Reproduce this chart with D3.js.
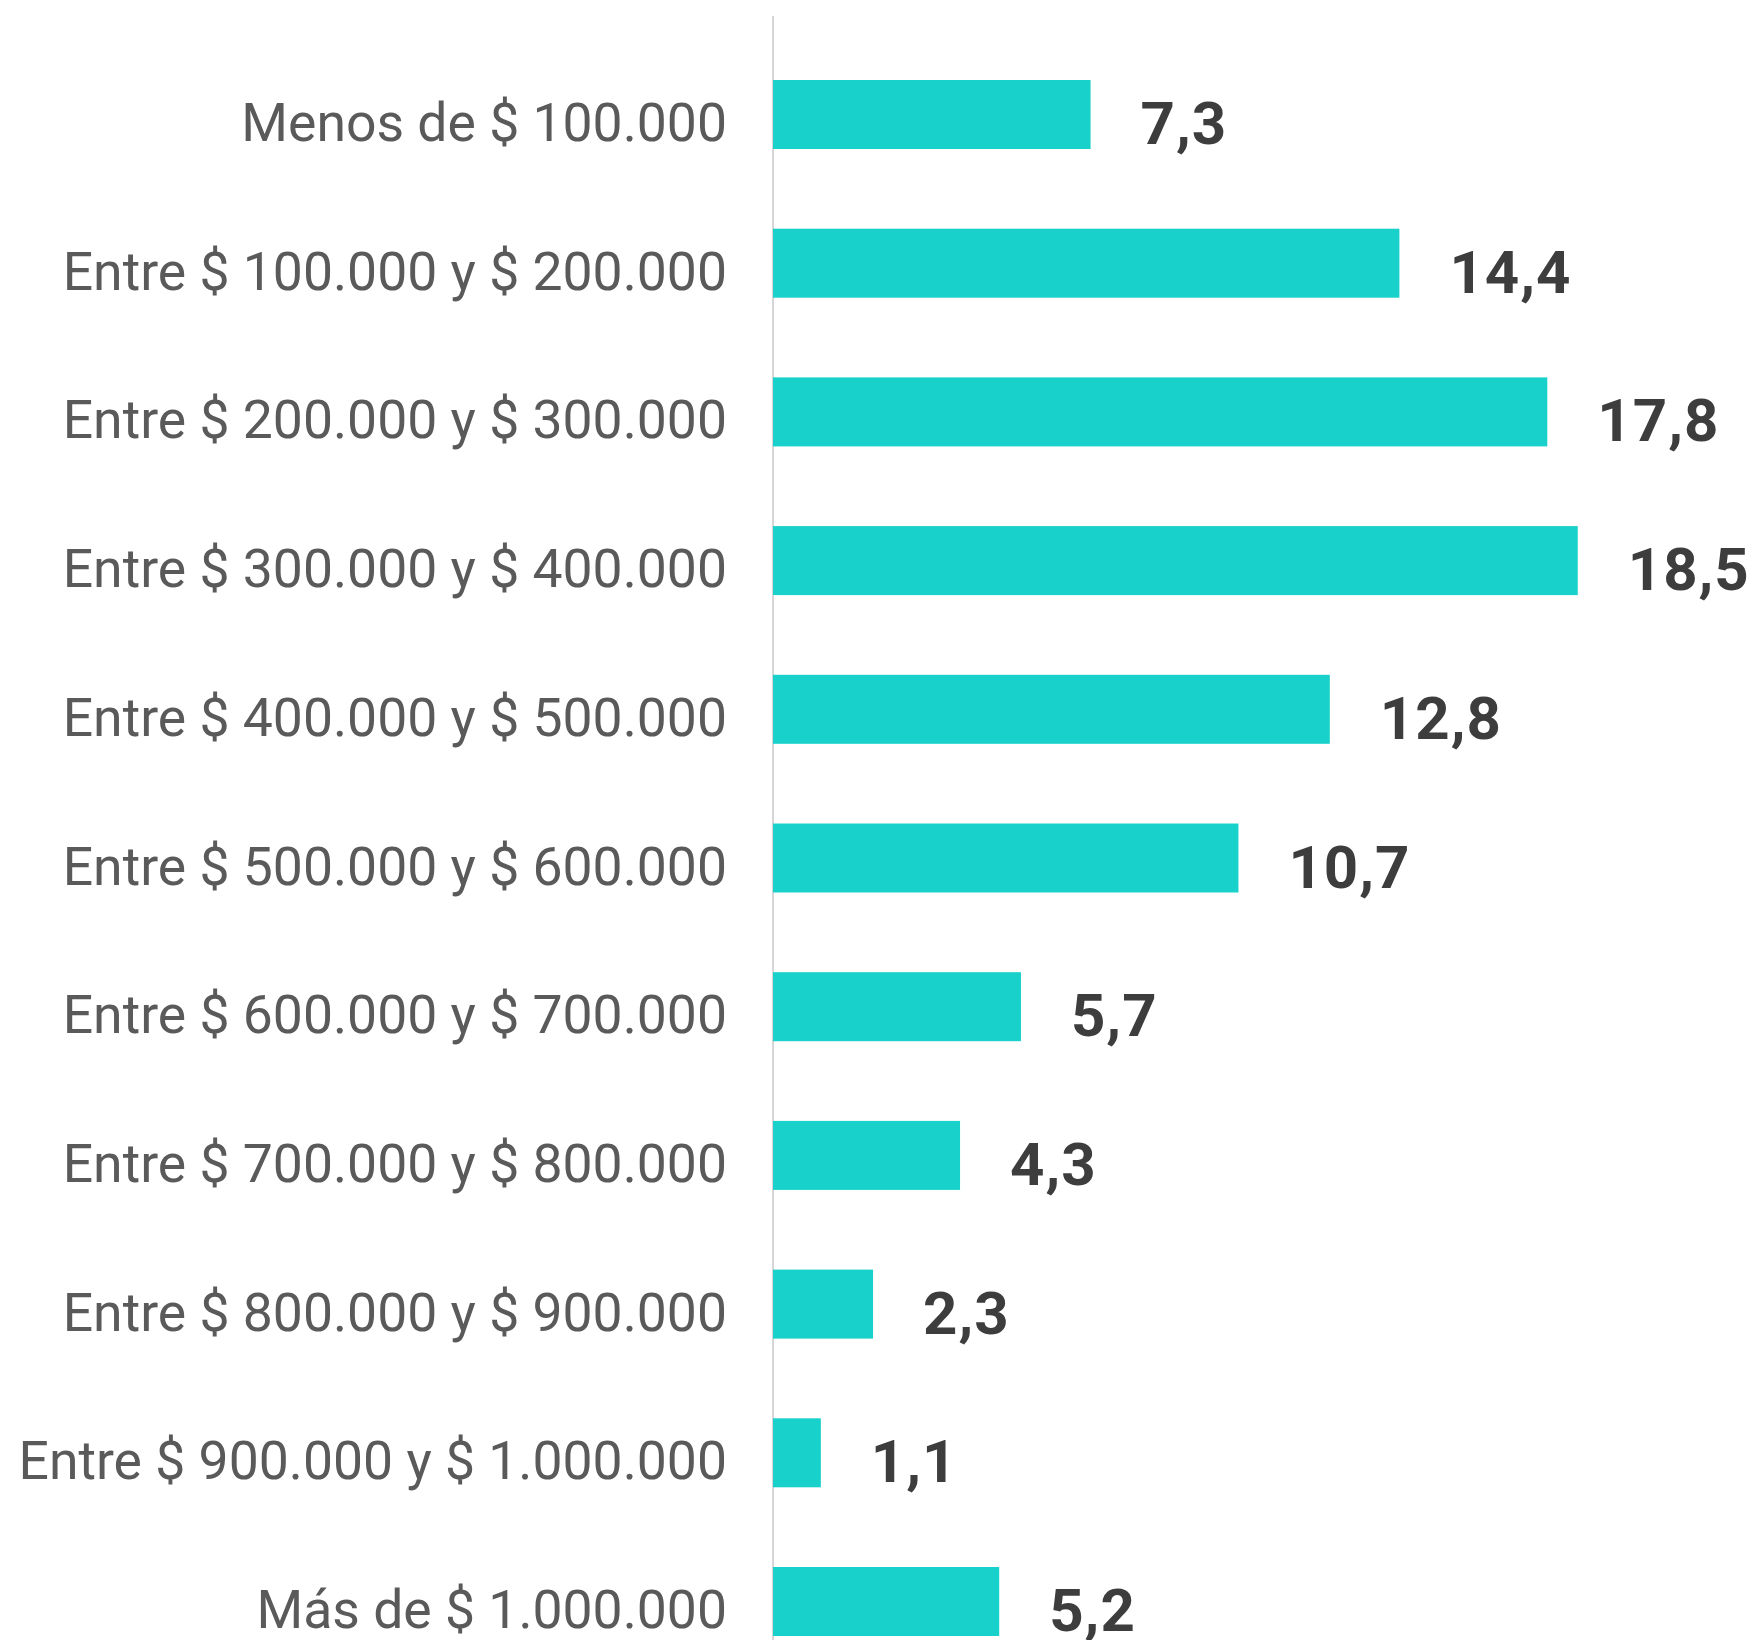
<!DOCTYPE html>
<html><head><meta charset="utf-8">
<script src="https://cdn.jsdelivr.net/npm/d3@7"></script>
<style>html,body{margin:0;padding:0;background:#fff;}svg{display:block;}</style>
</head><body>
<svg id="chart" width="1760" height="1640"></svg>
<script>
const categories = [
  "Menos de $ 100.000",
  "Entre $ 100.000 y $ 200.000",
  "Entre $ 200.000 y $ 300.000",
  "Entre $ 300.000 y $ 400.000",
  "Entre $ 400.000 y $ 500.000",
  "Entre $ 500.000 y $ 600.000",
  "Entre $ 600.000 y $ 700.000",
  "Entre $ 700.000 y $ 800.000",
  "Entre $ 800.000 y $ 900.000",
  "Entre $ 900.000 y $ 1.000.000",
  "Más de $ 1.000.000"
];
const values = [7.3, 14.4, 17.8, 18.5, 12.8, 10.7, 5.7, 4.3, 2.3, 1.1, 5.2];
const valueLabels = ["7,3","14,4","17,8","18,5","12,8","10,7","5,7","4,3","2,3","1,1","5,2"];

const data = categories.map((c,i)=>({cat:c, v:values[i], lab:valueLabels[i]}));
const svg = d3.select("#chart");

const x = d3.scaleLinear().domain([0, 20]).range([773, 773 + 870]);
const y = d3.scaleBand().domain(categories).range([80, 1636]).paddingInner(0.536).paddingOuter(0);

// axis line
svg.append("line")
  .attr("x1", x(0)).attr("x2", x(0))
  .attr("y1", 16).attr("y2", 1640)
  .attr("stroke", "#d6d6d6").attr("stroke-width", 2);

svg.append("g").selectAll("rect").data(data).join("rect")
  .attr("x", x(0))
  .attr("y", d => y(d.cat))
  .attr("width", d => x(d.v) - x(0))
  .attr("height", y.bandwidth())
  .attr("fill", "#18d1cb");

// category labels
svg.append("g").selectAll("text").data(data).join("text")
  .attr("x", 727)
  .attr("y", d => y(d.cat) + y.bandwidth()/2 + 8)
  .attr("text-anchor", "end")
  .attr("dominant-baseline", "central")
  .attr("font-family", "Roboto, sans-serif")
  .attr("font-size", 53.5)
  .attr("fill", "#5a5a5a")
  .text(d => d.cat);

// value labels
svg.append("g").selectAll("text").data(data).join("text")
  .attr("x", d => x(d.v) + 50)
  .attr("y", d => y(d.cat) + y.bandwidth()/2 + 9)
  .attr("dominant-baseline", "central")
  .attr("font-family", "Roboto, sans-serif")
  .attr("font-weight", "bold")
  .attr("font-size", 60)
  .attr("letter-spacing", 1)
  .attr("fill", "#3d3d3d")
  .text(d => d.lab);
</script>
</body></html>
